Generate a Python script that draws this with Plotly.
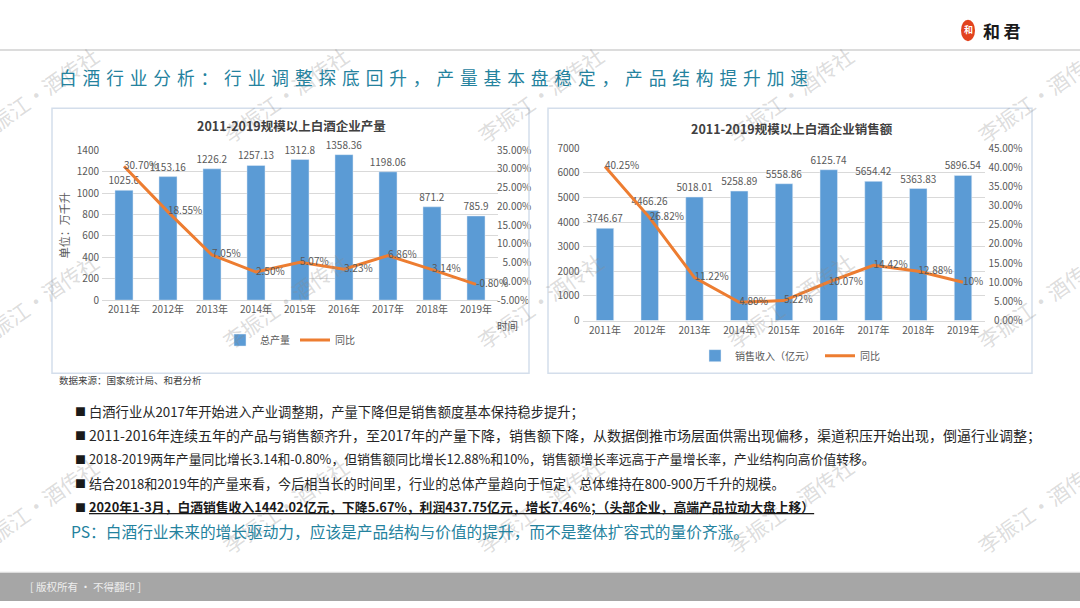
import plotly.graph_objects as go

W, H = 1080, 608
FONT = "Noto Sans CJK SC"

# ---------------- data ----------------
years = ["2011年", "2012年", "2013年", "2014年", "2015年", "2016年", "2017年", "2018年", "2019年"]
output_vol = [1025.6, 1153.16, 1226.2, 1257.13, 1312.8, 1358.36, 1198.06, 871.2, 785.9]
output_yoy = [30.70, 18.55, 7.05, 2.50, 5.07, 3.23, 6.86, 3.14, -0.80]
sales_rev = [3746.67, 4466.26, 5018.01, 5258.89, 5558.86, 6125.74, 5654.42, 5363.83, 5896.54]
sales_yoy = [40.25, 26.82, 11.22, 4.80, 5.22, 10.07, 14.42, 12.88, 10.0]
sales_yoy_labels = ["40.25%", "26.82%", "11.22%", "4.80%", "5.22%", "10.07%", "14.42%", "12.88%", "10%"]

left_pct_ticks = [-5, 0, 5, 10, 15, 20, 25, 30, 35]
right_pct_ticks = [0, 5, 10, 15, 20, 25, 30, 35, 40, 45]

title_text = "白酒行业分析：行业调整探底回升，产量基本盘稳定，产品结构提升加速"
bullets = [
    "白酒行业从2017年开始进入产业调整期，产量下降但是销售额度基本保持稳步提升；",
    "2011-2016年连续五年的产品与销售额齐升，至2017年的产量下降，销售额下降，从数据倒推市场层面供需出现偏移，渠道积压开始出现，倒逼行业调整；",
    "2018-2019两年产量同比增长3.14和-0.80%，但销售额同比增长12.88%和10%，销售额增长率远高于产量增长率，产业结构向高价值转移。",
    "结合2018和2019年的产量来看，今后相当长的时间里，行业的总体产量趋向于恒定，总体维持在800-900万千升的规模。",
    "2020年1-3月，白酒销售收入1442.02亿元，下降5.67%，利润437.75亿元，增长7.46%；（头部企业，高端产品拉动大盘上移）",
]
ps_text = "PS：白酒行业未来的增长驱动力，应该是产品结构与价值的提升，而不是整体扩容式的量价齐涨。"

BAR = "#5b9bd5"
LINE = "#ed7d31"
GRAY = "#595959"
TEAL = "#24829e"


def px(x):
    return x / W


def py(y):
    return 1 - y / H


def pct_label(v):
    s = f"{v:.2f}%"
    return "\u2007" * (6 - len(s)) + s


fig = go.Figure()

# Left chart
fig.add_trace(go.Bar(x=years, y=output_vol, name="总产量", marker_color=BAR, width=0.41,
                     text=[str(v) for v in output_vol], textposition="outside",
                     constraintext="none",
                     textfont=dict(size=10, color=GRAY), cliponaxis=False,
                     xaxis="x", yaxis="y", legend="legend"))
fig.add_trace(go.Scatter(x=years, y=output_yoy, name="同比", mode="lines+text",
                         line=dict(color=LINE, width=3),
                         text=[f"{v:.2f}%" for v in output_yoy], textposition="middle right",
                         textfont=dict(size=10, color=GRAY), cliponaxis=False,
                         xaxis="x", yaxis="y2", legend="legend"))

# Right chart
fig.add_trace(go.Bar(x=years, y=sales_rev, name="销售收入（亿元）", marker_color=BAR, width=0.39,
                     text=[str(v) for v in sales_rev], textposition="outside",
                     constraintext="none",
                     textfont=dict(size=10, color=GRAY), cliponaxis=False,
                     xaxis="x2", yaxis="y3", legend="legend2"))
fig.add_trace(go.Scatter(x=years, y=sales_yoy, name="同比", mode="lines+text",
                         line=dict(color=LINE, width=3),
                         text=sales_yoy_labels, textposition="middle right",
                         textfont=dict(size=10, color=GRAY), cliponaxis=False,
                         xaxis="x2", yaxis="y4", legend="legend2"))

tick_font = dict(size=10, color=GRAY, family=FONT)
common_x = dict(type="category", tickfont=tick_font, showline=True, linecolor="#d9d9d9",
                ticks="", showgrid=False, zeroline=False, fixedrange=True)

fig.update_layout(
    width=W, height=H, margin=dict(l=0, r=0, t=0, b=0),
    paper_bgcolor="white", plot_bgcolor="rgba(0,0,0,0)",
    font=dict(family=FONT, color=GRAY),
    xaxis=dict(domain=[px(102), px(498)], anchor="y", **common_x),
    yaxis=dict(domain=[py(299), py(145)], range=[0, 1400], dtick=200, tickfont=tick_font,
               anchor="x", gridcolor="#d9d9d9", gridwidth=1, zeroline=False, showline=False,
               ticks="", ticklabelstandoff=2),
    yaxis2=dict(overlaying="y", side="right", anchor="x", range=[-5, 35],
                tickvals=left_pct_ticks, ticktext=[pct_label(v) for v in left_pct_ticks],
                tickfont=tick_font, showgrid=False, zeroline=False, showline=False, ticks="",
                ticklabelstandoff=-2),
    xaxis2=dict(domain=[px(582.6), px(985.4)], anchor="y3", **common_x),
    yaxis3=dict(domain=[py(320), py(143)], range=[0, 7000], dtick=1000, tickfont=tick_font,
                anchor="x2", gridcolor="#d9d9d9", gridwidth=1, zeroline=False, showline=False,
                ticks="", ticklabelstandoff=2),
    yaxis4=dict(overlaying="y3", side="right", anchor="x2", range=[0, 45],
                tickvals=right_pct_ticks, ticktext=[pct_label(v) for v in right_pct_ticks],
                tickfont=tick_font, showgrid=False, zeroline=False, showline=False, ticks="",
                ticklabelstandoff=2),
    legend=dict(orientation="h", x=px(290), y=py(340), xanchor="center", yanchor="middle",
                font=dict(size=10, color=GRAY), bgcolor="rgba(0,0,0,0)", itemwidth=30,
                tracegroupgap=0),
    legend2=dict(orientation="h", x=px(790), y=py(356), xanchor="center", yanchor="middle",
                 font=dict(size=10, color=GRAY), bgcolor="rgba(0,0,0,0)", itemwidth=30,
                 tracegroupgap=0),
    showlegend=True,
)

shapes = []
# header line
shapes.append(dict(type="line", xref="paper", yref="paper", x0=0, x1=1, y0=py(42), y1=py(42),
                   line=dict(color="#d0d0d0", width=1.5)))
# chart boxes
shapes.append(dict(type="rect", xref="paper", yref="paper", x0=px(52), x1=px(529), y0=py(374), y1=py(102),
                   line=dict(color="#d4deeb", width=1.5)))
shapes.append(dict(type="rect", xref="paper", yref="paper", x0=px(548), x1=px(1032), y0=py(374), y1=py(102),
                   line=dict(color="#d4deeb", width=1.5)))
# footer bar
shapes.append(dict(type="rect", xref="paper", yref="paper", x0=0, x1=1, y0=0, y1=py(579),
                   fillcolor="#a6a6a6", line=dict(width=0), layer="below"))
shapes.append(dict(type="line", xref="paper", yref="paper", x0=0, x1=1, y0=py(578.5), y1=py(578.5),
                   line=dict(color="#d9d9d9", width=1)))
# logo
shapes.append(dict(type="circle", xref="paper", yref="paper", x0=px(961), x1=px(975), y0=py(33), y1=py(11),
                   fillcolor="#e2431e", line=dict(width=0)))
fig.update_layout(shapes=shapes)

ann = []


def add_text(x, y, text, size, color, xanchor="left", yanchor="middle", bold=False, angle=0, **kw):
    f = dict(size=size, color=color, family=FONT)
    if bold:
        f["weight"] = "bold"
    f.update(kw.pop("fontextra", {}))
    ann.append(dict(xref="paper", yref="paper", x=px(x), y=py(y), text=text, showarrow=False,
                    xanchor=xanchor, yanchor=yanchor, font=f, textangle=angle, **kw))


# watermarks
for wy in [88, 300, 510]:
    for wx in [35, 285, 540, 790, 1040]:
        add_text(wx, wy, "李振江·酒传社", 21, "rgba(140,140,140,0.30)", xanchor="center", angle=-35)

# slide title with letter spacing
add_text(57, 70, "\u2004".join(title_text), 17.7, TEAL)
# logo text
add_text(968, 21, "和", 9, "white", xanchor="center", bold=True)
add_text(981, 22, "和\u2009君", 17, "#1a1a1a", bold=True)

# chart titles
add_text(291, 120, "2011-2019规模以上白酒企业产量", 12.5, "#404040", xanchor="center", bold=True)
add_text(792, 123, "2011-2019规模以上白酒企业销售额", 12.5, "#404040", xanchor="center", bold=True)
# axis titles
add_text(64, 222, "单位：万千升", 11, GRAY, xanchor="center", angle=-90)
add_text(507, 325, "时间", 10.5, GRAY, xanchor="center")

# source
add_text(57, 381, "数据来源：国家统计局、和君分析", 9.5, "#404040")

# bullets
bullet_y = [413, 438, 462, 487, 511]
bullet_size = [13.3, 14.0, 12.8, 13.1, 12.8]
for i, (t, by, bs) in enumerate(zip(bullets, bullet_y, bullet_size)):
    add_text(73, by, "■", 11, "#1a1a1a")
    if i == len(bullets) - 1:
        add_text(87, by, t, bs, "#1a1a1a", bold=True, fontextra=dict(lineposition="under"))
    else:
        add_text(87, by, t, bs, "#262626")

add_text(69, 537, ps_text, 15.7, TEAL)

# footer text
add_text(28, 593, "[ 版权所有 • 不得翻印 ]", 10.5, "#eeeeee")

fig.update_layout(annotations=ann)

fig.write_html("out.html")
